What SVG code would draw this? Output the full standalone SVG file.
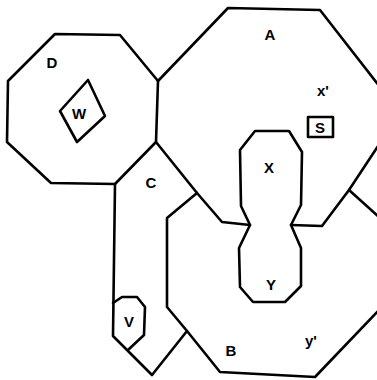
<svg xmlns="http://www.w3.org/2000/svg" width="377" height="380" viewBox="0 0 377 380">
<style>
.e{fill:none;stroke:#000;stroke-width:2.6;stroke-linejoin:round;stroke-linecap:round}
.t{font-family:"Liberation Sans",Arial,sans-serif;font-size:15px;font-weight:bold;fill:#000;text-anchor:middle;dominant-baseline:central}
</style>
<rect width="377" height="380" fill="#fff"/>
<g id="D">
<path class="e" d="M55,34 L120,35 L158,81 L156,142 L115,184 L51,183 L7,142 L8,81 Z"/>
<text class="t" x="52" y="62" font-size="13">D</text>
</g>
<g id="W">
<path class="e" d="M88,80 L105,116 L77,142 L60,111 Z"/>
<text class="t" x="79" y="113" font-size="13">W</text>
</g>
<g id="A">
<path class="e" d="M158,81 L228,8 L320,10 L380,87 M380,143 L349,190 L322,226 L291,225 M250,225 L222,222 L197,193 L156,142"/>
<text class="t" x="270" y="34" font-size="16">A</text>
<text class="t" x="323" y="90" font-size="17">x'</text>
</g>
<g id="S">
<rect class="e" x="308" y="117" width="25" height="20"/>
<text class="t" x="320" y="127" font-size="13">S</text>
</g>
<g id="XY">
<path class="e" d="M255,131 L289,131 L302,152 L301,205 L291,225 L301,248 L301,286 L285,302 L253,302 L240,287 L239,248 L250,225 L241,206 L240,150 Z"/>
<text class="t" x="269" y="167">X</text>
<text class="t" x="271" y="284" font-size="16">Y</text>
</g>
<g id="B">
<path class="e" d="M197,193 L167,218 L167,307 L187,331 L220,372 L315,377 L380,309 M349,190 L380,218"/>
<text class="t" x="231" y="350" font-size="16">B</text>
<text class="t" x="311" y="340" font-size="18">y'</text>
</g>
<g id="C">
<path class="e" d="M115,184 L113,336 L152,375 L187,331"/>
<text class="t" x="151" y="182" font-size="14">C</text>
</g>
<g id="V">
<path class="e" d="M113,303 L122,297 L137,297 L145,307 L144,335 L128,350"/>
<text class="t" x="129" y="321" font-size="14">V</text>
</g>
<g id="connectors"></g>
</svg>
